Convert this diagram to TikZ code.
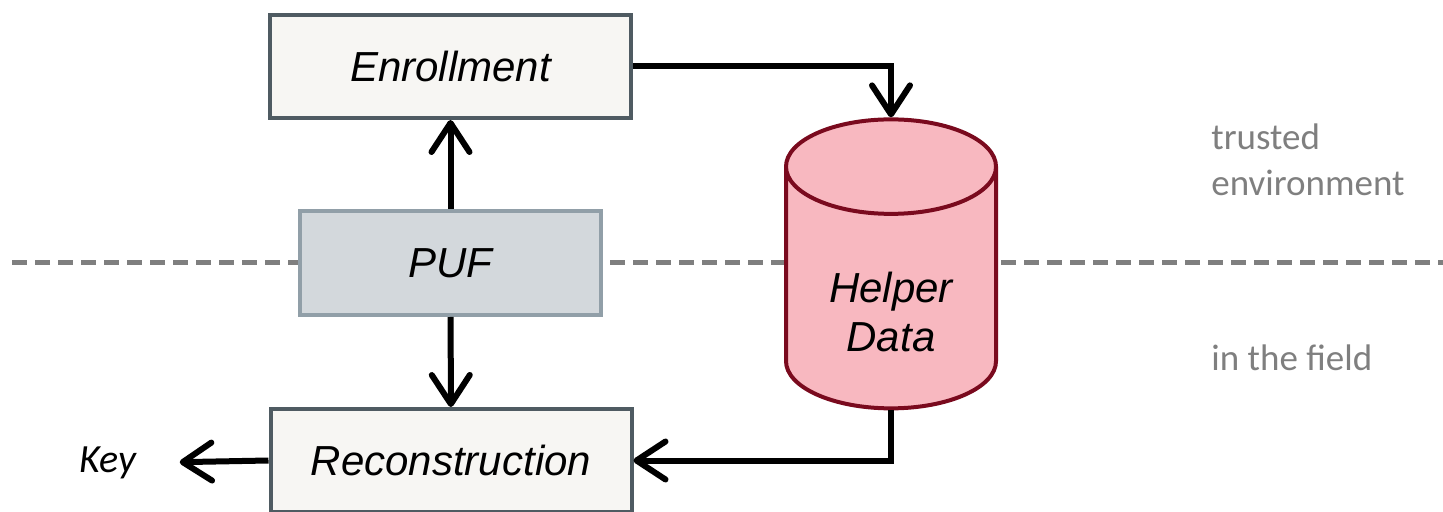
\documentclass[tikz,border=0pt]{standalone}
\usepackage{fontspec}
\setmainfont{Liberation Sans}
\newfontfamily\calibri{Carlito}
\usetikzlibrary{arrows.meta,shapes.geometric}
\definecolor{boxfill}{HTML}{F7F6F3}
\definecolor{boxline}{HTML}{4F5B62}
\definecolor{puffill}{HTML}{D3D8DC}
\definecolor{pufline}{HTML}{919FA8}
\definecolor{hdfill}{HTML}{F8B8C0}
\definecolor{hdline}{HTML}{7A0A1E}
\definecolor{zonegray}{HTML}{7F7F7F}
\tikzset{
  block/.style={draw=boxline, fill=boxfill, line width=2pt,
    minimum width=180.5pt, minimum height=51.5pt,
    font=\fontsize{21}{25}\selectfont\itshape},
  source/.style={block, draw=pufline, fill=puffill, minimum width=150.5pt, minimum height=52pt},
  store/.style={cylinder, shape border rotate=90, aspect=0.45,
    draw=hdline, fill=hdfill, line width=2pt, inner sep=0pt, text width=105pt,
    minimum width=105pt, minimum height=144.5pt},
  storetext/.style={align=center, inner sep=0pt, font=\fontsize{21}{24.5}\selectfont\itshape},
  flow/.style={line width=3pt, -{Straight Barb[length=14.5pt,width=19pt,round]}},
  border/.style={draw=zonegray, line width=2.5pt, dash pattern=on 7.5pt off 4pt},
  zone/.style={text=zonegray, inner sep=0pt, align=left, anchor=west,
    font=\calibri\fontsize{18.5}{23}\selectfont}
}
\begin{document}
\begin{tikzpicture}[x=0.5pt, y=-0.5pt]
  % page frame
  \useasboundingbox (0,0) rectangle (1443,512);
  \clip (0,0) rectangle (1443,512);
  % border between the zones
  \coordinate (b_1) at (12,263);
  \coordinate (b_2) at (1443,263);
  \draw[border] (b_1) -- (b_2);
  % zone labels
  \node[zone] (trusted) at (1211,160) {trusted\\environment};
  \node[zone] (field) at (1211,358) {in the field};
  % blocks
  \node[block] (enr) at (450.5,66.5) {Enrollment};
  \node[source] (puf) at (450.5,263) {PUF};
  \node[block] (rec) at (451,460.5) {Reconstruction};
  \node[store] (hd) at (891,288.5) {};
  \node[storetext] (hdtext) at (891,312) {Helper\\Data};
  \node[inner sep=0pt, font=\calibri\itshape\fontsize{20}{24}\selectfont] (key) at (108,463) {Key};
  % edges
  \draw[flow] (puf) -- (enr);
  \draw[flow] (puf) -- (rec);
  \draw[flow] (enr.east) -| (hd.north);
  \draw[flow] (hd.south) |- (rec.east);
  \draw[flow, shorten >=21.5pt] (rec.west) -- (key.east);
\end{tikzpicture}
\end{document}
